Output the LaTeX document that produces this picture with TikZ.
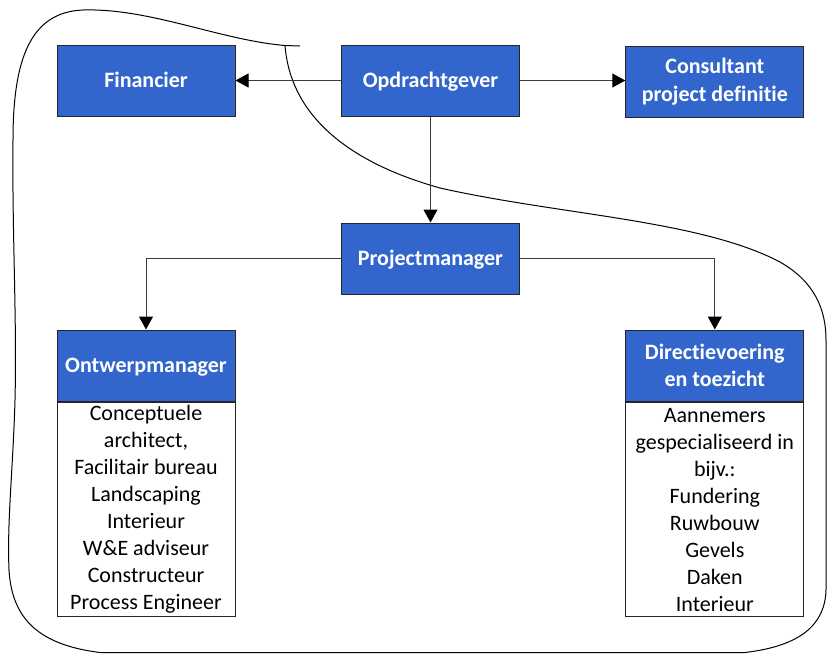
\documentclass[tikz,border=0pt]{standalone}
\usepackage{fontspec}
\setmainfont{Carlito}[Ligatures=NoCommon]
\usetikzlibrary{arrows.meta}
\definecolor{boxblue}{RGB}{51,102,204}
\definecolor{linegray}{RGB}{60,60,60}
\tikzset{
  hdr/.style={draw=black!85, line width=1pt, fill=boxblue, text=white,
    font=\fontsize{22}{27}\selectfont\bfseries, align=center,
    minimum width=178pt, minimum height=71pt, inner sep=0pt},
  oneline/.style={text height=14.2pt, text depth=0pt},
  bodybox/.style={draw=black!85, line width=1pt, fill=white, text=black,
    font=\fontsize{22}{27}\selectfont, align=center,
    minimum width=178pt, minimum height=214pt, inner sep=0pt},
  conn/.style={draw=linegray, line width=1pt, -{Triangle[length=13pt,width=14pt,color=black]}},
  outline/.style={draw=black, line width=1pt}
}
\begin{document}
\begin{tikzpicture}[x=1pt,y=-1pt]
\useasboundingbox (0,0) rectangle (827,654);
\begin{scope}
\clip (0,0) rectangle (827,654);
\draw[outline] (300,46) -- (285,45.5)
  .. controls (220,40) and (150,8) .. (83,10)
  .. controls (30,12) and (13,60) .. (13,140)
  .. controls (12,230) and (17,320) .. (15,400)
  .. controls (13,470) and (7,520) .. (9,570)
  .. controls (12,620) and (40,645) .. (100,652.5)
  -- (745,652.5)
  .. controls (800,646) and (825,625) .. (826,590)
  -- (826,340)
  .. controls (826,310) and (815,282) .. (780,262)
  .. controls (700,220) and (560,215) .. (440,188)
  .. controls (340,160) and (290,110) .. (285,45.5);
\end{scope}

\node[hdr, oneline] (fin) at (146,80.5) {Financier};
\node[hdr, oneline] (opd) at (430.5,80.5) {Opdrachtgever};
\node[hdr, font=\fontsize{22}{28}\selectfont\bfseries] (con) at (714.8,81.5) {Consultant\\project definitie};
\node[hdr, oneline] (pm) at (430.5,258.5) {Projectmanager};
\node[hdr, oneline, minimum height=71.7pt] (owm) at (146,365.85) {Ontwerpmanager};
\node[bodybox, anchor=north] (owb) at (owm.south) {Conceptuele\\architect,\\Facilitair bureau\\Landscaping\\Interieur\\W\&E adviseur\\Constructeur\\Process Engineer};
\node[hdr, minimum height=71.7pt] (dvt) at (714.8,365.85) {Directievoering\\en toezicht};
\node[bodybox, anchor=north] (dvb) at (dvt.south) {Aannemers\\gespecialiseerd in\\bijv.:\\Fundering\\Ruwbouw\\Gevels\\Daken\\Interieur};

\draw[conn] (opd.west) -- (fin.east);
\draw[conn] (opd.east) -- (opd.east -| con.west);
\draw[conn] (opd.south) -- (pm.north);
\draw[conn] (pm.west) -| (owm.north);
\draw[conn] (pm.east) -| (dvt.north);
\end{tikzpicture}
\end{document}
